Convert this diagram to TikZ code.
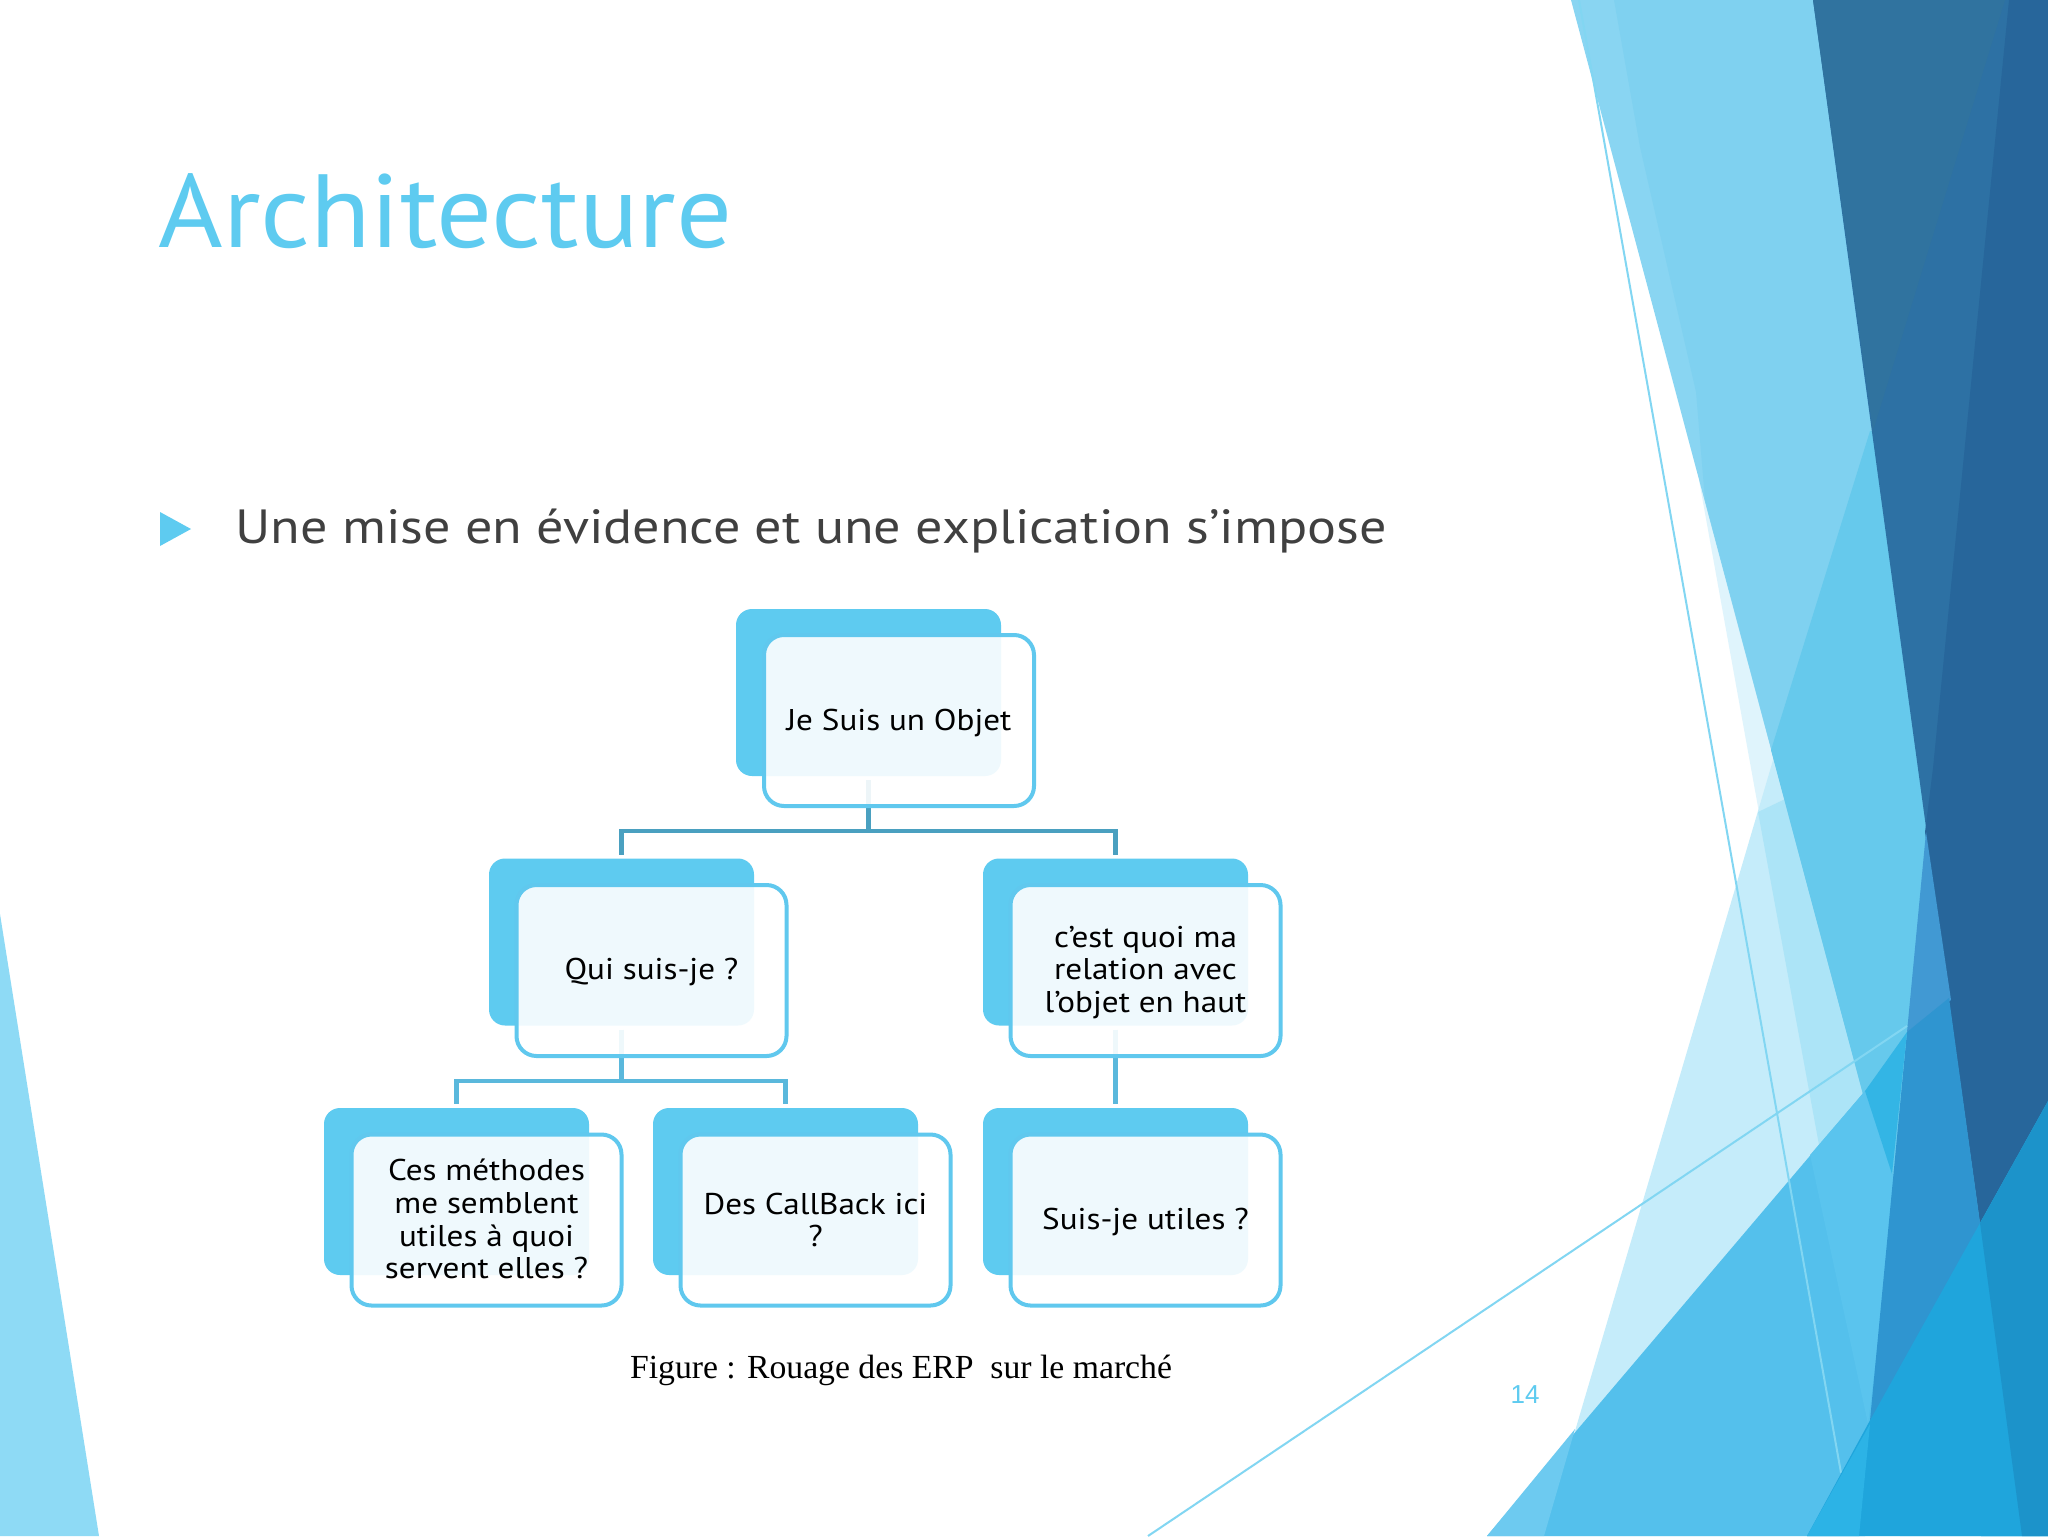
\documentclass[tikz,border=0pt]{standalone}
\usepackage{fontspec}
\setmainfont{PT Sans}
\newfontfamily\titlefont[FakeStretch=1.063]{PT Sans}
\newfontfamily\bodyfont[FakeStretch=1.127]{PT Sans}
\newfontfamily\boxfont[FakeStretch=1.105]{PT Sans}
\newfontfamily\capfont{Liberation Serif}
\newfontfamily\numfont{Liberation Sans}
\definecolor{cyanA}{HTML}{5ECBF0}
\definecolor{edgeA}{HTML}{60C8EE}
\definecolor{connA}{HTML}{4AA0C0}
\definecolor{connB}{HTML}{5AB8DC}
\definecolor{bodygrey}{HTML}{404040}
\definecolor{thinA}{HTML}{82D6F2}
\newcommand{\hexfill}[2]{\definecolor{tmpc}{HTML}{#1}\fill[tmpc] #2;}
\newcommand{\ftxt}[2]{\raisebox{#1}[\height][\depth]{\begin{tabular}{@{}c@{}}#2\end{tabular}}}
\tikzset{
  x=0.5pt,y=-0.5pt,
  backbox/.style={fill=cyanA,rounded corners=8pt,minimum width=132.5pt,minimum height=83.5pt,inner sep=0pt,outer sep=0pt},
  frontbox/.style={draw=edgeA,line width=2pt,fill=white,fill opacity=.9,draw opacity=1,text opacity=1,rounded corners=10pt,minimum width=135pt,minimum height=85.5pt,inner sep=0pt,outer sep=0pt,align=center,text=black,font=\boxfont\fontsize{15}{16.3}\selectfont},
  conn/.style={line width=2.2pt,connA},
  connb/.style={line width=2.2pt,connB},
  thinline/.style={line width=1pt,thinA},
}
\begin{document}
\begin{tikzpicture}
\useasboundingbox (0,0) rectangle (2048,1536);
\fill[white] (0,0) rectangle (2048,1536);
% left triangle
\hexfill{8EDAF5}{(0,914) -- (99,1536) -- (0,1536) -- cycle}
% right decoration
\hexfill{DFF4FC}{(1699,480) -- (1819,1145) -- (1900,1536) -- (2040,1536) -- (1850,768) -- cycle}
\hexfill{C5ECFA}{(1776,750) -- (1544,1536) -- (2000,1536) -- (2000,750) -- cycle}
\hexfill{ACE4F7}{(1758,812) -- (1819,1145) -- (1900,1536) -- (2040,1536) -- (1850,768) -- cycle}
\hexfill{89D5F2}{(1571,0) -- (1981,1536) -- (2048,1536) -- (2048,0) -- cycle}
\hexfill{7FD1F0}{(1614,0) -- (1640,147) -- (1696,392) -- (1705,500) -- (1981,1536) -- (2048,1536) -- (2048,0) -- cycle}
\hexfill{66C9EC}{(1870,431) -- (1771,750) -- (1981,1536) -- (2048,1536) -- (2048,431) -- cycle}
\hexfill{2D71A4}{(1813,0) -- (2048,0) -- (2048,1101) -- (1980,1223) -- cycle}
\hexfill{30739F}{(1813,0) -- (2005,0) -- (1873,431) -- cycle}
\hexfill{27669B}{(2009,0) -- (2048,0) -- (2048,1101) -- (1980,1223) -- (1925,832) -- (1933,768) -- cycle}
\hexfill{4199D3}{(1926,832) -- (1951,1000) -- (1907,1032) -- cycle}
\hexfill{54C0EC}{(1487,1536) -- (1865,1091) -- (1892,1174) -- (1898,1174) -- (1865,1536) -- cycle}
\hexfill{6DCAF0}{(1487,1536) -- (1575,1429) -- (1544,1536) -- cycle}
\hexfill{5AC4EE}{(1810,1155) -- (1865,1091) -- (1892,1174) -- (1898,1174) -- (1868,1424) -- cycle}
\hexfill{2F95D0}{(1907,1032) -- (1949,998) -- (1980,1223) -- (2040,1300) -- (1859,1536) -- cycle}
\hexfill{33B5E5}{(1907,1032) -- (1865,1091) -- (1892,1174) -- cycle}
\draw[thinline] (1579,0) -- (1841,1473);
\hexfill{1FA5DC}{(1807,1536) -- (1868,1424) -- (1980,1223) -- (2048,1101) -- (2048,1536) -- cycle}
\hexfill{2CB3E6}{(1807,1536) -- (1870,1424) -- (1859,1536) -- cycle}
\hexfill{1C93CA}{(1980,1223) -- (2048,1101) -- (2048,1536) -- (2022,1536) -- cycle}
\draw[thinline] (1148,1536) -- (1907,1026);
% heading and bullet
\node[anchor=base west,inner sep=0pt,text=cyanA,font=\titlefont\fontsize{52}{60}\selectfont] (title) at (158,247) {Architecture};
\fill[cyanA] (160,512) -- (191,529) -- (160,546) -- cycle;
\node[anchor=base west,inner sep=0pt,text=bodygrey,font=\bodyfont\fontsize{24}{28}\selectfont] (bodytext) at (235,543) {Une mise en évidence et une explication s’impose};
% back boxes
\node[backbox] (rb) at (868.5,692.5) {};
\node[backbox] (qb) at (621.5,942) {};
\node[backbox] (eb) at (1115.5,942) {};
\node[backbox] (cb) at (456.5,1191.5) {};
\node[backbox] (db) at (785.5,1191.5) {};
\node[backbox] (sb) at (1115.5,1191.5) {};
% connectors
\coordinate (jr) at (868.5,831);
\coordinate (jq) at (621.5,1081);
\draw[conn,shorten <=2pt] (rb.south) -- (jr);
\draw[conn,shorten >=2pt] (jr) -| (qb.north);
\draw[conn,shorten >=2pt] (jr) -| (eb.north);
\draw[connb,shorten <=2pt] (qb.south) -- (jq);
\draw[connb,shorten >=2pt] (jq) -| (cb.north);
\draw[connb,shorten >=2pt] (jq) -| (db.north);
\draw[connb,shorten <=2pt,shorten >=2pt] (eb.south) -- (sb.north);
% front boxes
\node[frontbox] (rf) at (899,720.5) {\ftxt{-1.9pt}{Je Suis un Objet}};
\node[frontbox] (qf) at (651.5,970.5) {\ftxt{-1.3pt}{Qui suis-je ?}};
\node[frontbox] (ef) at (1145.5,970.5) {\ftxt{-1.3pt}{c’est quoi ma\\relation avec\\l’objet en haut}};
\node[frontbox] (cf) at (486.5,1220) {\ftxt{-1.6pt}{Ces méthodes\\me semblent\\utiles à quoi\\servent elles ?}};
\node[frontbox] (df) at (815.5,1220) {\ftxt{-1.9pt}{Des CallBack ici\\?}};
\node[frontbox] (sf) at (1145.5,1220) {\ftxt{-1.3pt}{Suis-je utiles ?}};
% caption and page number
\node[anchor=base,inner sep=0pt,text=black,font=\capfont\fontsize{16.85}{20}\selectfont] (cap) at (901,1378) {Figure : Rouage des ERP\ \ sur le marché};
\node[inner sep=0pt,text=cyanA,font=\numfont\fontsize{13}{15}\selectfont] (num) at (1525,1395) {14};
\end{tikzpicture}
\end{document}
